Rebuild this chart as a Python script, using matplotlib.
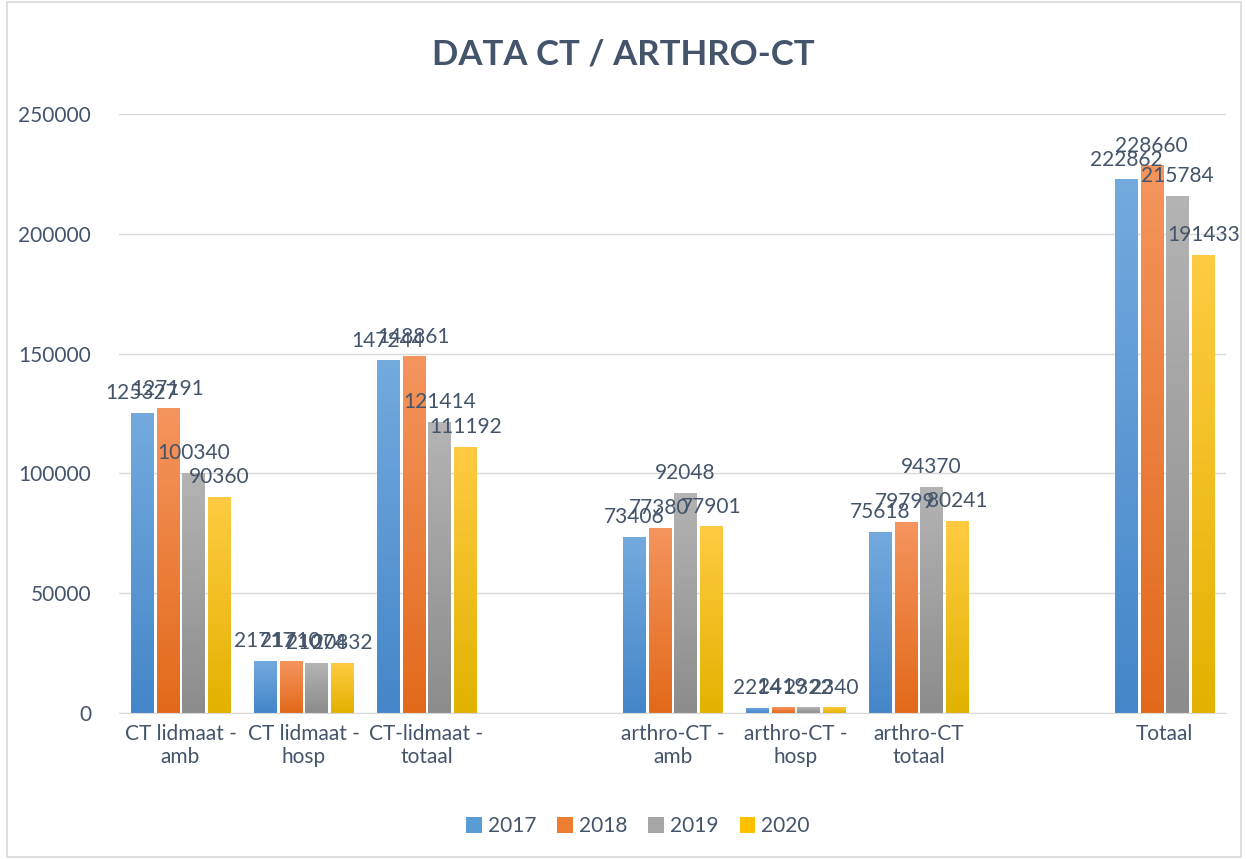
import numpy as np
import matplotlib.pyplot as plt
from matplotlib.colors import LinearSegmentedColormap
from matplotlib.patches import Rectangle, Patch

plt.rcParams['font.family'] = ['Lato', 'DejaVu Sans']

categories = ['CT lidmaat -\namb', 'CT lidmaat -\nhosp', 'CT-lidmaat -\ntotaal', '',
              'arthro-CT -\namb', 'arthro-CT -\nhosp', 'arthro-CT\ntotaal', '', 'Totaal']
years = ['2017', '2018', '2019', '2020']
v2017 = [125327, 21717, 147244, np.nan, 73406, 2214, 75618, np.nan, 222862]
v2018 = [127191, 21710, 148861, np.nan, 77380, 2419, 79799, np.nan, 228660]
v2019 = [100340, 21074, 121414, np.nan, 92048, 2322, 94370, np.nan, 215784]
v2020 = [90360, 20832, 111192, np.nan, 77901, 2340, 80241, np.nan, 191433]
series = [v2017, v2018, v2019, v2020]

# top / bottom of the gradient fill per year
grads = [('#74aade', '#4486c9'), ('#f5955e', '#e2691a'),
         ('#b4b4b4', '#8c8c8c'), ('#ffcb42', '#e2b200')]
mids = ['#5b9bd5', '#ed7d31', '#a5a5a5', '#ffc000']
txt = '#44546a'

fig = plt.figure(figsize=(12.46, 8.59), dpi=100)
fig.patches.append(Rectangle((0.006, 0.002), 0.99, 0.996, transform=fig.transFigure,
                             fill=False, edgecolor='#d9d9d9', lw=1.2))
ax = fig.add_axes([0.0955, 0.17, 0.8885, 0.697])

x = np.arange(len(categories))
w = 0.18
step = 0.21
grad = np.linspace(1, 0, 256).reshape(-1, 1)
for i, vals in enumerate(series):
    off = (i - 1.5) * step
    bars = ax.bar(x + off, vals, width=w, color=mids[i], zorder=2)
    cm = LinearSegmentedColormap.from_list('g', [grads[i][1], grads[i][0]])
    for b in bars:
        h = b.get_height()
        if np.isnan(h):
            continue
        b.set_facecolor('none')
        im = ax.imshow(grad, extent=[b.get_x(), b.get_x() + b.get_width(), 0, h],
                       aspect='auto', cmap=cm, zorder=2, vmin=0, vmax=1)
        im.set_clip_path(b)
    labs = ['' if np.isnan(v) else f'{v:.0f}' for v in vals]
    ax.bar_label(bars, labels=labs, padding=7, fontsize=15, color=txt)

ax.set_xlim(-0.5, len(categories) - 0.5)
ax.set_ylim(0, 250000)
ax.set_yticks(np.arange(0, 250001, 50000))
ax.set_xticks(x)
ax.set_xticklabels(categories)
ax.tick_params(axis='both', length=0, labelsize=15, labelcolor=txt)
ax.tick_params(axis='y', pad=20)
ax.tick_params(axis='x', pad=8)
ax.grid(axis='y', color='#d9d9d9', lw=1, zorder=0)
for s in ['left', 'right', 'top']:
    ax.spines[s].set_visible(False)
ax.spines['bottom'].set_color('#d9d9d9')

fig.suptitle('DATA CT / ARTHRO-CT', y=0.955, fontsize=25, fontweight='bold', color=txt)

handles = [Patch(facecolor=c, label=y) for c, y in zip(mids, years)]
leg = fig.legend(handles=handles, loc='center', bbox_to_anchor=(0.512, 0.038), ncol=4,
                 frameon=False, fontsize=15, handlelength=0.75, handleheight=0.75,
                 handletextpad=0.3, columnspacing=1.0)
for t in leg.get_texts():
    t.set_color(txt)

fig.savefig('out.png', dpi=100)
